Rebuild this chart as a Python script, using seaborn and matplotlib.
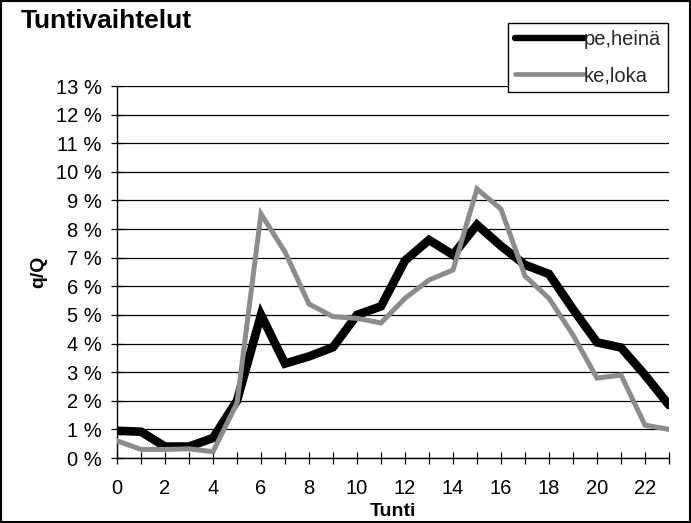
import matplotlib
matplotlib.use("Agg")
import matplotlib.pyplot as plt
import seaborn as sns
import pandas as pd
from matplotlib.patches import Rectangle
from matplotlib.ticker import FuncFormatter

hours = list(range(24))
pe_heina = [0.95, 0.92, 0.40, 0.40, 0.70, 2.00, 5.00, 3.30, 3.55, 3.87, 5.00, 5.30,
            6.90, 7.62, 7.10, 8.15, 7.41, 6.75, 6.43, 5.20, 4.04, 3.86, 2.90, 1.85]
ke_loka = [0.60, 0.30, 0.30, 0.32, 0.22, 1.92, 8.53, 7.20, 5.38, 4.94, 4.88, 4.72,
           5.58, 6.22, 6.57, 9.40, 8.70, 6.36, 5.58, 4.30, 2.79, 2.90, 1.15, 1.00]
labels = ["pe,heinä", "ke,loka"]
title = "Tuntivaihtelut"
xlabel = "Tunti"
ylabel = "q/Q"

sns.set_theme(style="white")
plt.rcParams['font.family'] = ['Liberation Sans', 'DejaVu Sans']

fig = plt.figure(figsize=(6.91, 5.23), dpi=100)
ax = fig.add_axes([117/691, 65/523, (669-117)/691, (458-86)/523])

df = pd.DataFrame({"h": hours, "a": pe_heina, "b": ke_loka})
sns.lineplot(data=df, x="h", y="a", ax=ax, color="black", linewidth=6.2, label=labels[0],
             solid_joinstyle="miter", zorder=3)
sns.lineplot(data=df, x="h", y="b", ax=ax, color="#8c8c8c", linewidth=3.6, label=labels[1],
             solid_joinstyle="miter", zorder=4)

fs = 14.5
ax.set_xlim(0, 23)
ax.set_ylim(0, 13)
ax.set_yticks(range(0, 14))
ax.yaxis.set_major_formatter(FuncFormatter(lambda v, p: f"{int(round(v))} %"))
ax.set_xticks(range(0, 24))
ax.set_xticklabels([str(h) if h % 2 == 0 else "" for h in hours])
ax.grid(axis="y", color="black", linewidth=0.9)
ax.grid(axis="x", visible=False)
for s in ["top", "right"]:
    ax.spines[s].set_visible(False)
for s in ["left", "bottom"]:
    ax.spines[s].set_color("black")
    ax.spines[s].set_linewidth(1.0)
ax.tick_params(axis="both", direction="inout", length=8, width=0.9, color="black",
               labelsize=fs, labelcolor="black", left=True, bottom=True)
ax.tick_params(axis="y", pad=7)
ax.tick_params(axis="x", pad=11)

ax.set_xlabel(xlabel, fontsize=14, fontweight="bold", color="black")
ax.xaxis.set_label_coords(0.5, -45/372)
ax.xaxis.label.set_va("top")
ax.set_ylabel(ylabel, fontsize=14, fontweight="bold", color="black", labelpad=6)
fig.text(21/691, 1 - 21/523, title, fontsize=19, fontweight="bold", color="black",
         va="center", ha="left")

leg = ax.legend(loc="upper right", bbox_to_anchor=(668/691, 1 - 23/523),
                bbox_transform=fig.transFigure, borderaxespad=0, frameon=True,
                fancybox=False, edgecolor="black", fontsize=fs, handlelength=3.4,
                handletextpad=0.0, labelspacing=0.85, borderpad=0.35)
leg.get_frame().set_linewidth(1.0)
leg.get_frame().set_facecolor("white")
leg.get_frame().set_alpha(1)
leg.set_zorder(10)
for line, lw in zip(leg.get_lines(), [4.6, 3.4]):
    line.set_solid_capstyle("round")
    line.set_linewidth(lw)

fig.patches.append(Rectangle((0.0015, 0.002), 0.997, 0.996, transform=fig.transFigure,
                             fill=False, edgecolor="black", linewidth=1.5))

fig.savefig("out.png", dpi=100)
